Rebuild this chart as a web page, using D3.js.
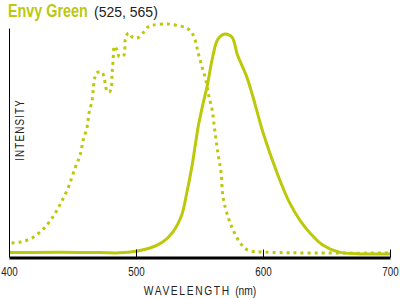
<!DOCTYPE html>
<html>
<head>
<meta charset="utf-8">
<script src="https://cdn.jsdelivr.net/npm/d3@7"></script>
<style>
  body { margin: 0; background: #fff; }
  svg { display: block; }
  text { font-family: "Liberation Sans", Arial, sans-serif; }
</style>
</head>
<body>
<svg width="400" height="298"></svg>
<script>
'use strict';

// emission (solid) and excitation (dotted) spectra, wavelength nm / relative intensity
const emWave = [400, 440, 472, 487, 501, 511, 521, 529, 536, 540, 544, 546.5, 549, 553, 556, 560.5, 564.5, 570, 575.5, 580, 587, 592, 600, 611, 621, 629, 637, 647, 660, 674, 700]
const emVal = [0.6, 0.8, 0.6, 0.5, 1.3, 2.6, 5.2, 9.5, 16.9, 26.5, 37.8, 46.5, 55.2, 65.6, 72.6, 85.6, 93, 95.2, 93.9, 86, 77, 68.2, 52.6, 35.2, 22.1, 14.7, 9.1, 3.9, 0.8, 0.1, 0]

const exWave = [402, 409, 418, 427, 434, 440, 446.5, 452, 456, 458.5, 461.5, 463, 465.5, 466.5, 467.5, 469, 473, 475, 476, 477.5, 479, 480.5, 481.2, 482, 483, 485, 487, 490.5, 491.5, 494, 497, 501, 505.5, 509.5, 513.5, 524.5, 534.5, 540, 544, 546.5, 549, 552, 555, 557.5, 560, 562, 564.5, 567, 568.5, 572.5, 576.5, 582, 588, 598, 700]
const exVal = [4.8, 5.2, 6.9, 10.8, 15.6, 21.2, 28.6, 37.2, 42.9, 49.4, 55, 61, 66.7, 72.3, 76.2, 78.4, 78.8, 76.2, 72.7, 70.1, 70.1, 71.9, 78.4, 84, 90, 88.3, 85.3, 86.1, 92.6, 95.7, 93.9, 93.5, 95.7, 98.3, 99.1, 99.6, 98.7, 97.8, 95.7, 92.6, 87, 81, 75.3, 68, 62.3, 53.7, 43.7, 35.1, 24.7, 16, 10.4, 4.8, 1.7, 0.9, 0.4]

const xTicks = [400, 500, 600, 700]
const titleName = 'Envy Green'
const titleSub = '(525, 565)'
const green = '#bcc90a'
const narrow = 'scale(0.82,1)'

const svg = d3.select('svg')

const x = d3.scaleLinear().domain([400, 700]).range([9, 390])
const y = d3.scaleLinear().domain([0, 100]).range([254, 23])

const emission = emWave.map((w, i) => ({w: w, v: emVal[i]}))
const excitation = exWave.map((w, i) => ({w: w, v: exVal[i]}))

const line = d3.line()
  .x((d) => x(d.w))
  .y((d) => y(d.v))
  .curve(d3.curveCatmullRom.alpha(0.5))

// left axis line
svg.append('line')
  .attr('x1', x(400) + 0.5).attr('x2', x(400) + 0.5)
  .attr('y1', y(97.6)).attr('y2', y(0) + 3)
  .attr('stroke', '#000').attr('stroke-width', 1)

svg.append('path')
  .attr('d', line(excitation))
  .attr('fill', 'none')
  .attr('stroke', green)
  .attr('stroke-width', 3)
  .attr('stroke-dasharray', '3,4')

svg.append('path')
  .attr('d', line(emission))
  .attr('fill', 'none')
  .attr('stroke', green)
  .attr('stroke-width', 3)
  .attr('stroke-linejoin', 'round')

const xAxis = d3.axisBottom(x)
  .tickValues(xTicks)
  .tickSizeInner(-8)
  .tickSizeOuter(0)
  .tickPadding(10)

const gx = svg.append('g')
  .attr('transform', 'translate(0,' + (y(0) + 3.5) + ')')
  .call(xAxis)
gx.select('.domain').attr('stroke', '#000').attr('stroke-width', 3)
gx.selectAll('.tick line').attr('stroke', '#000')
gx.selectAll('.tick text')
  .attr('fill', '#222')
  .attr('transform', narrow)
  .style('font-family', '"Liberation Sans", sans-serif')
  .style('font-size', '12px')

// axis titles
const xt = svg.append('g')
  .attr('transform', 'translate(200,295) ' + narrow)
  .append('text')
  .attr('text-anchor', 'middle')
  .attr('fill', '#222')
  .style('font-size', '12.5px')
xt.append('tspan').style('letter-spacing', '2px').text('WAVELENGTH ')
xt.append('tspan').text('(nm)')

svg.append('text')
  .attr('transform', 'translate(24,130) rotate(-90) ' + narrow)
  .attr('text-anchor', 'middle')
  .attr('fill', '#222')
  .style('font-size', '12px')
  .style('letter-spacing', '1.4px')
  .text('INTENSITY')

// title
svg.append('text')
  .attr('transform', 'translate(8,17) ' + narrow)
  .attr('fill', green)
  .style('font-weight', 'bold')
  .style('font-size', '17.5px')
  .text(titleName)
svg.append('text')
  .attr('x', 94)
  .attr('y', 17)
  .attr('fill', '#222')
  .style('font-size', '14px')
  .text(titleSub)
</script>
</body>
</html>
